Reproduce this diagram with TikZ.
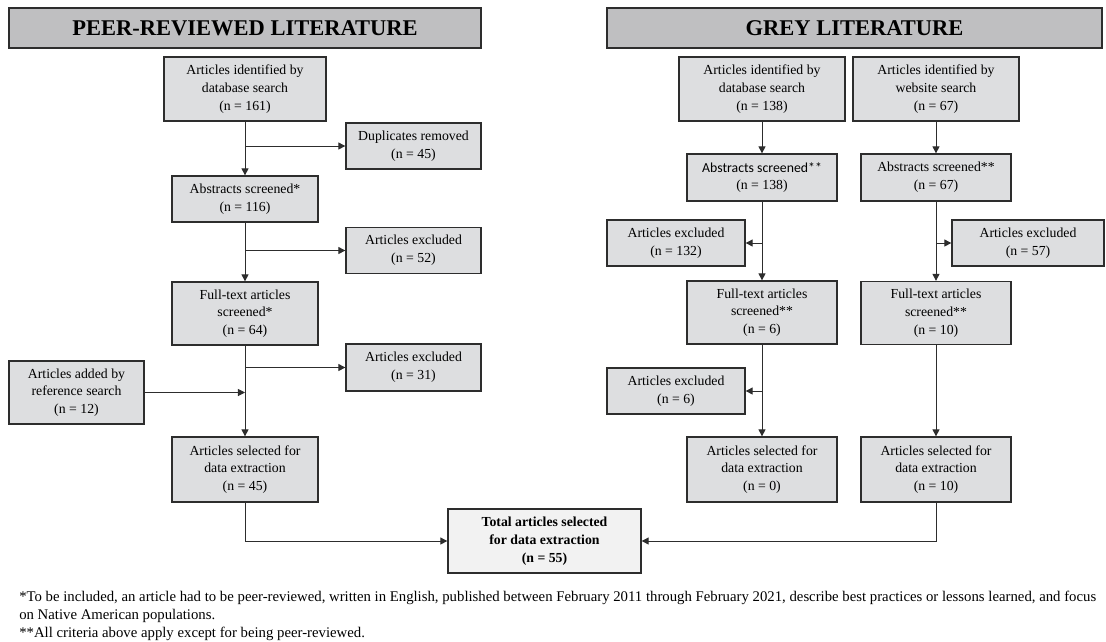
\documentclass[tikz,border=0pt]{standalone}
\usepackage{fontspec}
\setmainfont{Liberation Serif}
\newfontfamily\calfont{Carlito}
\usepackage{tikz}
\usetikzlibrary{arrows.meta, positioning, calc}
\definecolor{boxgray}{RGB}{221,222,224}
\definecolor{hdrgray}{RGB}{191,191,193}
\definecolor{totgray}{RGB}{242,242,242}
\definecolor{lineDark}{RGB}{45,45,45}
\tikzset{
  basebox/.style={rectangle,draw=lineDark,line width=0.9pt,fill=boxgray,align=center,
                  inner sep=1pt,font=\fontsize{9.8}{12.6}\selectfont},
  hdrnode/.style={basebox,fill=hdrgray,font=\fontsize{16}{18}\selectfont\bfseries},
  totalnode/.style={basebox,fill=totgray,font=\fontsize{9.8}{12.6}\selectfont\bfseries},
  arr/.style={-{Triangle[length=5pt,width=5pt]},line width=0.7pt,color=lineDark},
  seg/.style={line width=0.7pt,color=lineDark}
}
\begin{document}
\begin{tikzpicture}[x=0.025cm,y=-0.025cm]
  \useasboundingbox (0,0) rectangle (1106,641);
  %% Headers
  \node[hdrnode,minimum width=11.8cm,minimum height=1.0cm] (hdrpeer) at (245,28) {PEER-REVIEWED LITERATURE};
  \node[hdrnode,minimum width=12.375cm,minimum height=1.0cm] (hdrgrey) at (854.5,28) {GREY LITERATURE};

  %% Peer-reviewed column
  \node[basebox,minimum width=4.05cm,minimum height=1.6cm] (idpeer) at (245,89) {Articles identified by\\database search\\(n = 161)};
  \node[basebox,minimum width=3.375cm,minimum height=1.15cm] (dup) at (413.5,146) {Duplicates removed\\(n = 45)};
  \node[basebox,minimum width=3.65cm,minimum height=1.15cm] (abspeer) at (245,199) {Abstracts screened*\\(n = 116)};
  \node[basebox,minimum width=3.375cm,minimum height=1.15cm] (exclA) at (413.5,250.5) {Articles excluded\\(n = 52)};
  \node[basebox,minimum width=3.65cm,minimum height=1.575cm] (ftpeer) at (245,313.5) {Full-text articles\\screened*\\(n = 64)};
  \node[basebox,minimum width=3.375cm,minimum height=1.175cm] (exclB) at (413.5,367.5) {Articles excluded\\(n = 31)};
  \node[basebox,minimum width=3.375cm,minimum height=1.575cm] (refadd) at (76.5,392.5) {Articles added by\\reference search\\(n = 12)};
  \node[basebox,minimum width=3.65cm,minimum height=1.625cm] (selpeer) at (245,469.5) {Articles selected for\\data extraction\\(n = 45)};

  %% Grey literature columns
  \node[basebox,minimum width=4.15cm,minimum height=1.6cm] (iddb) at (762,89) {Articles identified by\\database search\\(n = 138)};
  \node[basebox,minimum width=4.15cm,minimum height=1.6cm] (idweb) at (936,89) {Articles identified by\\website search\\(n = 67)};
  \node[basebox,minimum width=3.75cm,minimum height=1.175cm] (absdb) at (762,177.5) {{\calfont Abstracts screened**}\\(n = 138)};
  \node[basebox,minimum width=3.75cm,minimum height=1.175cm] (absweb) at (936,177.5) {Abstracts screened**\\(n = 67)};
  \node[basebox,minimum width=3.45cm,minimum height=1.15cm] (exdbA) at (676,243) {Articles excluded\\(n = 132)};
  \node[basebox,minimum width=3.8cm,minimum height=1.15cm] (exweb) at (1028,243) {Articles excluded\\(n = 57)};
  \node[basebox,minimum width=3.75cm,minimum height=1.575cm] (ftdb) at (762,312.5) {Full-text articles\\screened**\\(n = 6)};
  \node[basebox,minimum width=3.75cm,minimum height=1.575cm] (ftweb) at (936,313) {Full-text articles\\screened**\\(n = 10)};
  \node[basebox,minimum width=3.45cm,minimum height=1.15cm] (exdbB) at (676,391) {Articles excluded\\(n = 6)};
  \node[basebox,minimum width=3.75cm,minimum height=1.625cm] (seldb) at (762,469.5) {Articles selected for\\data extraction\\(n = 0)};
  \node[basebox,minimum width=3.75cm,minimum height=1.625cm] (selweb) at (936,469.5) {Articles selected for\\data extraction\\(n = 10)};

  \node[totalnode,minimum width=4.825cm,minimum height=1.6cm] (total) at (544.5,541) {Total articles selected\\for data extraction\\(n = 55)};

  %% Connectors, peer-reviewed
  \draw[arr] (idpeer) -- (abspeer);
  \draw[arr] (idpeer.south |- dup.west) -- (dup.west);
  \draw[arr] (abspeer) -- (ftpeer);
  \draw[arr] (abspeer.south |- exclA.west) -- (exclA.west);
  \draw[arr] (ftpeer) -- (selpeer);
  \draw[arr] (ftpeer.south |- exclB.west) -- (exclB.west);
  \draw[arr] (refadd.east) -- (refadd.east -| ftpeer.south);
  \draw[arr] (selpeer.south) |- (total.west);

  %% Connectors, grey literature
  \draw[arr] (iddb) -- (absdb);
  \draw[arr] (absdb) -- (ftdb);
  \draw[arr] (absdb.south |- exdbA.east) -- (exdbA.east);
  \draw[arr] (ftdb) -- (seldb);
  \draw[arr] (ftdb.south |- exdbB.east) -- (exdbB.east);
  \draw[arr] (idweb) -- (absweb);
  \draw[arr] (absweb) -- (ftweb);
  \draw[arr] (absweb.south |- exweb.west) -- (exweb.west);
  \draw[arr] (ftweb) -- (selweb);
  \draw[arr] (selweb.south) |- (total.east);

  %% Footnotes
  \node[anchor=north west,align=left,inner sep=0pt,font=\fontsize{10.5}{12.8}\selectfont] (notes) at (19,591)
    {*To be included, an article had to be peer-reviewed, written in English, published between February 2011 through February 2021, describe best practices or lessons learned, and focus\\
     on Native American populations.\\
     **All criteria above apply except for being peer-reviewed.};
\end{tikzpicture}
\end{document}
